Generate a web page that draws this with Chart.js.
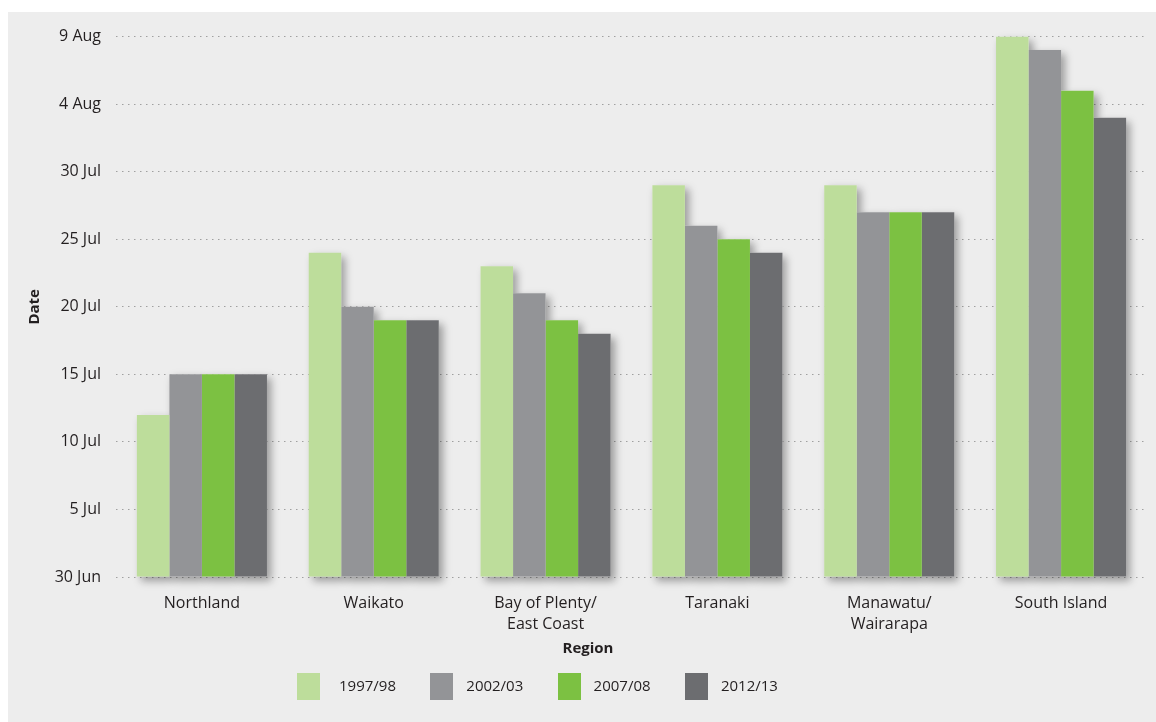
<!DOCTYPE html>
<html>
<head>
<meta charset="utf-8">
<script src="https://cdn.jsdelivr.net/npm/chart.js@4"></script>
<style>
  html, body { margin: 0; padding: 0; background: #fff; }
  #wrap { position: absolute; left: 8px; top: 12px; width: 1148px; height: 710px; background: #ededed; }
</style>
</head>
<body>
<div id="wrap"><canvas id="chart" width="1148" height="710"></canvas></div>
<script>
// values are days after 30 June
const regions = ['Northland', 'Waikato', ['Bay of Plenty/', 'East Coast'], 'Taranaki', ['Manawatu/', 'Wairarapa'], 'South Island'];
const years = ['1997/98', '2002/03', '2007/08', '2012/13'];
const v1997 = [12, 24, 23, 29, 29, 40];
const v2002 = [15, 20, 21, 26, 27, 39];
const v2007 = [15, 19, 19, 25, 27, 36];
const v2012 = [15, 19, 18, 24, 27, 34];
const dateTicks = ['30 Jun', '5 Jul', '10 Jul', '15 Jul', '20 Jul', '25 Jul', '30 Jul', '4 Aug', '9 Aug'];
const colours = ['#bddd9b', '#939497', '#7cc142', '#6c6d70'];

const FONT = "'Open Sans', sans-serif";
const TEXT = '#231f20';

// soft shadow behind each bar group
const barShadow = {
    id: 'barShadow',
    beforeDatasetsDraw(chart) {
        const ctx = chart.ctx;
        ctx.save();
        ctx.shadowColor = 'rgba(0,0,0,0.35)';
        ctx.shadowBlur = 8;
        ctx.shadowOffsetX = 4;
        ctx.shadowOffsetY = 4;
        ctx.fillStyle = '#ededed';
        chart.data.datasets.forEach((ds, i) => {
            chart.getDatasetMeta(i).data.forEach(bar => {
                const p = bar.getProps(['x', 'y', 'base', 'width'], true);
                ctx.fillRect(p.x - p.width / 2, p.y, p.width, p.base - p.y);
            });
        });
        ctx.restore();
    }
};

// "Region" title and legend row
const bottomLegend = {
    id: 'bottomLegend',
    afterDraw(chart) {
        const ctx = chart.ctx;
        ctx.save();
        ctx.fillStyle = TEXT;
        ctx.font = 'bold 15px ' + FONT;
        ctx.textAlign = 'center';
        ctx.textBaseline = 'middle';
        ctx.fillText('Region', 580, 637);

        ctx.font = '15px ' + FONT;
        ctx.textAlign = 'left';
        chart.data.datasets.forEach((ds, i) => {
            const tx = 331 + i * 127.3;
            ctx.fillStyle = ds.backgroundColor;
            ctx.fillRect(Math.round(tx - 23 - (i === 0 ? 19 : 13)), 661, 23, 27);
            ctx.fillStyle = TEXT;
            ctx.fillText(ds.label, tx, 675);
        });
        ctx.restore();
    }
};

const seriesValues = [v1997, v2002, v2007, v2012];

new Chart(document.getElementById('chart'), {
    type: 'bar',
    data: {
        labels: regions,
        datasets: years.map((y, i) => ({
            label: y,
            data: seriesValues[i],
            backgroundColor: colours[i],
            borderWidth: 0,
            barPercentage: 1,
            categoryPercentage: 0.757
        }))
    },
    options: {
        responsive: false,
        animation: false,
        layout: { padding: { top: 23, right: 9, bottom: 75, left: 0 } },
        plugins: {
            legend: { display: false },
            tooltip: { enabled: false }
        },
        scales: {
            x: {
                grid: { display: false },
                border: { display: false },
                ticks: {
                    color: TEXT,
                    font: { family: FONT, size: 16, lineHeight: 1.3 },
                    padding: 8,
                    maxRotation: 0
                },
                afterFit: s => { s.height = 70; }
            },
            y: {
                min: 0,
                max: 40,
                grid: {
                    color: '#a0a0a0',
                    lineWidth: 1,
                    drawTicks: false
                },
                border: { display: false, dash: [1.5, 4.5] },
                ticks: {
                    stepSize: 5,
                    padding: 15,
                    color: TEXT,
                    font: { family: FONT, size: 16 },
                    callback: v => dateTicks[v / 5]
                },
                title: {
                    display: true,
                    text: 'Date',
                    color: TEXT,
                    font: { family: FONT, size: 15, weight: 'bold' },
                    padding: { top: 18, bottom: 0 }
                },
                afterFit: s => { s.width = 108; }
            }
        }
    },
    plugins: [barShadow, bottomLegend]
});
</script>
</body>
</html>
